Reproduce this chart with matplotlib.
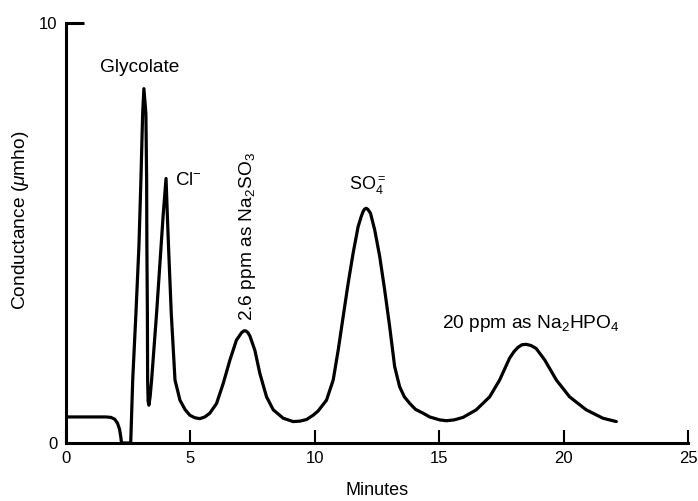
import matplotlib
matplotlib.use("Agg")
import matplotlib.pyplot as plt

plt.rcParams['font.family'] = ['Liberation Sans', 'DejaVu Sans']
plt.rcParams['mathtext.fontset'] = 'custom'
plt.rcParams['mathtext.rm'] = 'Liberation Sans'
plt.rcParams['mathtext.it'] = 'Liberation Sans:italic'

# trace (minutes, conductance)
minutes = [0, 1.6, 1.8, 1.95, 2.07, 2.15, 2.2, 2.23, 2.6,
           2.68, 2.81, 2.93, 3.01, 3.08, 3.13, 3.21, 3.24, 3.25, 3.27, 3.28,
           3.30, 3.33, 3.38, 3.44, 3.64, 3.82, 3.91, 4.02, 4.07, 4.12, 4.23,
           4.38, 4.58, 4.78, 4.98, 5.18, 5.38, 5.58, 5.78, 6.05, 6.32, 6.59,
           6.85, 7.06, 7.15, 7.23, 7.31, 7.39, 7.59, 7.79, 8.06, 8.33, 8.73,
           9.13, 9.4, 9.67, 9.93, 10.13, 10.47, 10.74, 10.94, 11.14, 11.34,
           11.54, 11.74, 11.87, 11.94, 12.0, 12.07, 12.14, 12.24, 12.41,
           12.61, 12.81, 13.01, 13.21, 13.41, 13.6, 13.82, 14.05, 14.35,
           14.62, 15.02, 15.29, 15.6, 15.96, 16.49, 17.03, 17.43, 17.83,
           18.0, 18.17, 18.33, 18.5, 18.7, 18.9, 19.24, 19.71, 20.24, 20.91,
           21.58, 22.12]
conductance = [0.62, 0.62, 0.61, 0.57, 0.47, 0.33, 0.15, 0.0, 0.0,
               1.5, 3.09, 4.68, 6.26, 7.85, 8.44, 7.85, 6.26, 4.68, 3.09, 1.5,
               1.0, 0.9, 1.1, 1.5, 3.09, 4.68, 5.47, 6.30, 5.47, 4.68, 3.09,
               1.5, 1.02, 0.8, 0.66, 0.6, 0.58, 0.62, 0.71, 0.94, 1.42, 1.98,
               2.45, 2.63, 2.67, 2.67, 2.63, 2.55, 2.21, 1.66, 1.10, 0.79, 0.59,
               0.51, 0.52, 0.56, 0.66, 0.76, 1.02, 1.5, 2.21, 3.01, 3.80,
               4.52, 5.15, 5.4, 5.51, 5.57, 5.59, 5.56, 5.47, 5.07,
               4.44, 3.64, 2.77, 1.82, 1.34, 1.1, 0.94, 0.8, 0.71,
               0.62, 0.55, 0.53, 0.55, 0.61, 0.79, 1.10, 1.5, 2.02,
               2.17, 2.28, 2.34, 2.35, 2.32, 2.25, 1.98, 1.5, 1.10, 0.79,
               0.59, 0.51]

xticks = [0, 5, 10, 15, 20, 25]
yticks = [0, 10]

fig = plt.figure(figsize=(6.98, 5.01), dpi=100)
ax = fig.add_axes([0.0946, 0.1158, 0.891, 0.838])

ax.plot(minutes, conductance, color='black', lw=2.3,
        solid_joinstyle='round', solid_capstyle='round')

ax.set_xlim(0, 25)
ax.set_ylim(0, 10)
ax.set_xticks(xticks)
ax.set_yticks(yticks)
for s in ['top', 'right']:
    ax.spines[s].set_visible(False)
for s in ['left', 'bottom']:
    ax.spines[s].set_linewidth(2.2)
ax.tick_params(axis='x', direction='in', length=9.5, width=1.5, labelsize=12, pad=6)
ax.tick_params(axis='y', direction='in', length=13, width=2.2, labelsize=12, pad=6)
ax.yaxis.get_major_ticks()[0].tick1line.set_visible(False)

ax.set_xlabel('Minutes', fontsize=13, labelpad=11)
ax.set_ylabel('Conductance ($\\mu$mho)', fontsize=13.8, labelpad=4)
ax.yaxis.set_label_coords(-0.057, 0.53)

ax.text(2.95, 8.75, 'Glycolate', fontsize=13.8, ha='center', va='bottom')
ax.text(4.4, 6.05, 'Cl$^{-}$', fontsize=13.5, ha='left', va='bottom')
ax.text(7.3, 2.9, '2.6 ppm as Na$_2$SO$_3$', fontsize=13.8, rotation=90,
        ha='center', va='bottom')
ax.text(12.1, 5.85, 'SO$_4^{=}$', fontsize=13, ha='center', va='bottom')
ax.text(18.7, 2.74, '20 ppm as Na$_2$HPO$_4$', fontsize=13.8, ha='center',
        va='baseline')

fig.savefig('out.png', dpi=100)
